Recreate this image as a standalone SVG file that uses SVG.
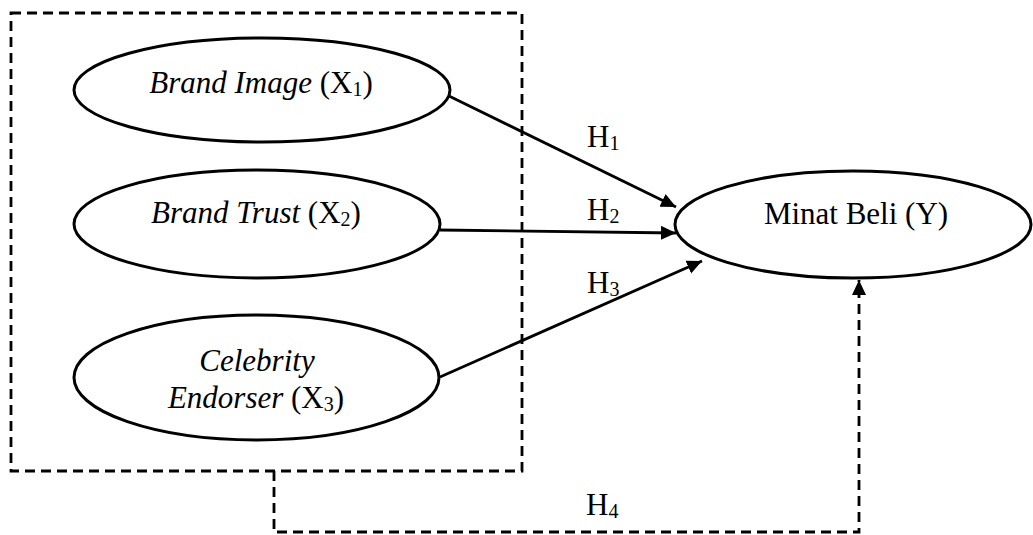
<svg xmlns="http://www.w3.org/2000/svg" width="1033" height="535" viewBox="0 0 1033 535">
  <style>
    .node { fill: #fff; stroke: #000; stroke-width: 3; }
    .lbl { font-family: "Liberation Serif", "Times New Roman", serif; font-size: 31px; fill: #000; }
    .it { font-style: italic; }
    .sub { font-size: 20px; }
    .edge { fill: none; stroke: #000; stroke-width: 2.8; }
    .dash { fill: none; stroke: #000; stroke-width: 2.8; stroke-dasharray: 10 6; }
  </style>
  <defs>
    <marker id="arrow" markerUnits="userSpaceOnUse" markerWidth="16" markerHeight="16" refX="15" refY="7" orient="auto">
      <path d="M0,0 L15,7 L0,14 z" fill="#000"/>
    </marker>
  </defs>
  <rect width="1033" height="535" fill="#fff"/>

  <!-- independent variables grouped in a dashed frame -->
  <rect id="frame" class="dash" x="11" y="13" width="511" height="458"/>

  <g id="connectors">
    <line class="edge" x1="449" y1="96" x2="676" y2="207" marker-end="url(#arrow)"/>
    <line class="edge" x1="440" y1="230" x2="676" y2="233" marker-end="url(#arrow)"/>
    <line class="edge" x1="440" y1="377" x2="702" y2="261" marker-end="url(#arrow)"/>
    <path class="dash" d="M274,471 V532 H859 V280" marker-end="url(#arrow)"/>
    <text class="lbl" x="587" y="147">H<tspan class="sub" dy="3">1</tspan></text>
    <text class="lbl" x="587" y="220">H<tspan class="sub" dy="3">2</tspan></text>
    <text class="lbl" x="587" y="293">H<tspan class="sub" dy="3">3</tspan></text>
    <text class="lbl" x="586" y="515">H<tspan class="sub" dy="3">4</tspan></text>
  </g>

  <g id="x1">
    <ellipse class="node" cx="262" cy="90" rx="188" ry="52"/>
    <text class="lbl" x="261" y="93" text-anchor="middle"><tspan class="it">Brand Image</tspan> (X<tspan class="sub" dy="3">1</tspan><tspan dy="-3">)</tspan></text>
  </g>

  <g id="x2">
    <ellipse class="node" cx="257" cy="224" rx="183" ry="54"/>
    <text class="lbl" x="256" y="223" text-anchor="middle"><tspan class="it">Brand Trust</tspan> (X<tspan class="sub" dy="3">2</tspan><tspan dy="-3">)</tspan></text>
  </g>

  <g id="x3">
    <ellipse class="node" cx="256.5" cy="377.5" rx="182.5" ry="62.5"/>
    <text class="lbl it" x="257" y="371" text-anchor="middle">Celebrity</text>
    <text class="lbl" x="256" y="408" text-anchor="middle"><tspan class="it">Endorser</tspan> (X<tspan class="sub" dy="3">3</tspan><tspan dy="-3">)</tspan></text>
  </g>

  <g id="y">
    <ellipse class="node" cx="853" cy="224.5" rx="178" ry="53.5"/>
    <text class="lbl" x="856" y="224" text-anchor="middle">Minat Beli (Y)</text>
  </g>
</svg>
